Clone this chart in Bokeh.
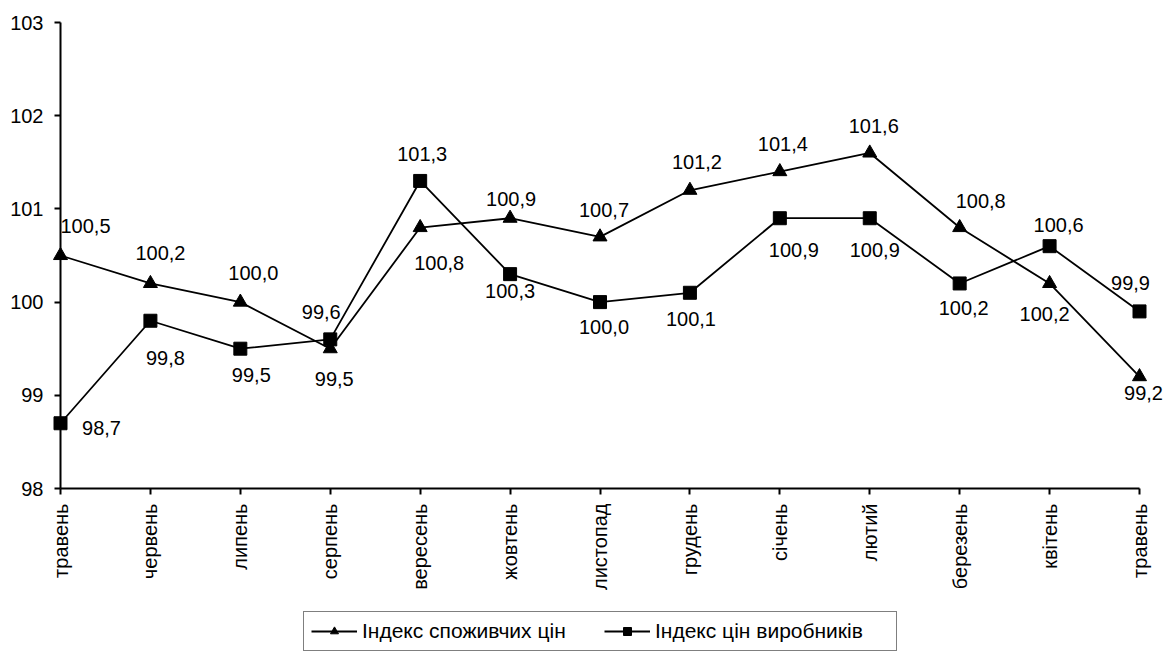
import math
from bokeh.plotting import figure
from bokeh.layouts import column
from bokeh.models import Range1d, FixedTicker, ColumnDataSource, Legend, LegendItem
from bokeh.core.properties import value
from bokeh.embed import file_html
from bokeh.resources import INLINE

# ---- data ----
months = ["травень", "червень", "липень", "серпень", "вересень", "жовтень", "листопад",
          "грудень", "січень", "лютий", "березень", "квітень", "травень"]
cpi = [100.5, 100.2, 100.0, 99.5, 100.8, 100.9, 100.7, 101.2, 101.4, 101.6, 100.8, 100.2, 99.2]
ppi = [98.7, 99.8, 99.5, 99.6, 101.3, 100.3, 100.0, 100.1, 100.9, 100.9, 100.2, 100.6, 99.9]
y_ticks = [98, 99, 100, 101, 102, 103]
series_names = ["Індекс споживчих цін", "Індекс цін виробників"]

# ---- label placement (style, px; y up) ----
cpi_dx = [25, 10, 13, 4, 19, 1, 4, 7, 3, 4, 21, -5, 4]
cpi_dy = [30, 30, 29, -30, -35, 19, 27, 28, 28, 27, 27, -31, -16]
ppi_dx = [41, 15, 11, -9, 2, 0, 4, 1, 14, 5, 4, 9, -9]
ppi_dy = [-5, -37, -26, 27, 27, -17, -25, -26, -32, -32, -25, 21, 28]

FONT = "Liberation Sans"
FS = "20px"

xs = list(range(len(months)))

def fmt(v):
    return f"{v:.1f}".replace(".", ",")

src_cpi = ColumnDataSource(dict(x=xs, y=cpi, t=[fmt(v) for v in cpi],
                                dx=cpi_dx, dy=[-d for d in cpi_dy]))
src_ppi = ColumnDataSource(dict(x=xs, y=ppi, t=[fmt(v) for v in ppi],
                                dx=ppi_dx, dy=[-d for d in ppi_dy]))

p = figure(frame_width=1079, frame_height=466, output_backend="svg", toolbar_location=None,
           x_range=Range1d(0, len(months) - 1), y_range=Range1d(98, 103),
           min_border_left=60, min_border_right=36, min_border_top=22, min_border_bottom=0)
p.outline_line_color = None
p.xgrid.visible = False
p.ygrid.visible = False
p.background_fill_color = "white"
p.border_fill_color = "white"

p.line("x", "y", source=src_cpi, line_color="black", line_width=1.8, level="overlay")
p.scatter("x", "y", source=src_cpi, marker="triangle", size=14, fill_color="black",
          line_color="black", level="overlay")
p.line("x", "y", source=src_ppi, line_color="black", line_width=1.8, level="overlay")
p.scatter("x", "y", source=src_ppi, marker="square", size=13, fill_color="black",
          line_color="black", level="overlay")

for src in (src_cpi, src_ppi):
    p.text(x="x", y="y", text="t", x_offset="dx", y_offset="dy", source=src,
           text_align="center", text_baseline="middle", level="overlay",
           text_font=value(FONT), text_font_size=FS, text_color="black")

# axes
p.xaxis.ticker = FixedTicker(ticks=xs)
p.xaxis.major_label_overrides = {i: m for i, m in enumerate(months)}
p.xaxis.major_label_orientation = math.pi / 2
p.xaxis.major_label_standoff = 9
p.yaxis.ticker = FixedTicker(ticks=y_ticks)
p.yaxis.major_label_standoff = 11
for ax in (p.xaxis, p.yaxis):
    ax.axis_line_color = "black"
    ax.axis_line_width = 2
    ax.major_tick_line_color = "black"
    ax.major_tick_line_width = 2
    ax.major_tick_in = 0
    ax.major_tick_out = 6
    ax.minor_tick_in = 0
    ax.minor_tick_out = 0
    ax.major_label_text_font = FONT
    ax.major_label_text_font_size = FS
    ax.major_label_text_color = "black"

# ---- legend strip below the chart (series drawn out of its view, only used for legend) ----
lg = figure(width=1175, height=60, output_backend="svg", toolbar_location=None,
            x_range=Range1d(0, 1), y_range=Range1d(0, 1), min_border=0)
lg.outline_line_color = None
lg.axis.visible = False
lg.grid.visible = False
lg.background_fill_color = "white"
lg.border_fill_color = "white"
d1 = lg.line("x", "y", source=src_cpi, line_color="black", line_width=1.8)
e1 = lg.scatter("x", "y", source=src_cpi, marker="triangle", size=14, fill_color="black", line_color="black")
d2 = lg.line("x", "y", source=src_ppi, line_color="black", line_width=1.8)
e2 = lg.scatter("x", "y", source=src_ppi, marker="square", size=13, fill_color="black", line_color="black")

legend = Legend(items=[LegendItem(label=series_names[0], renderers=[d1, e1]),
                       LegendItem(label=series_names[1], renderers=[d2, e2])],
                orientation="horizontal", location=(243, 2),
                label_text_font=FONT, label_text_font_size="21px", label_text_color="black",
                glyph_width=46, glyph_height=20, label_standoff=5, spacing=8, label_width=234,
                padding=7, margin=0, border_line_color="black", border_line_width=1,
                background_fill_color="white", background_fill_alpha=1.0)
lg.add_layout(legend)

layout = column(p, lg, spacing=0)
open("out.html", "w").write(file_html(layout, INLINE))
